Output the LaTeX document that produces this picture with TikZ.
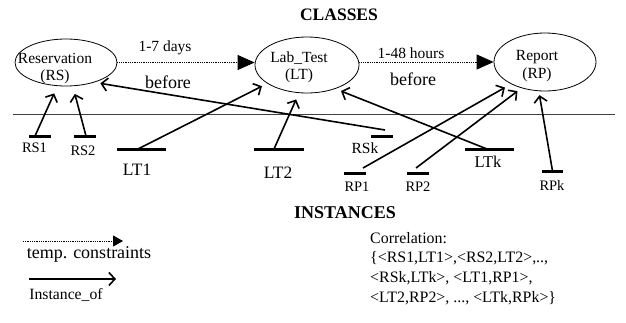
\documentclass[tikz,border=0pt]{standalone}
\usepackage{fontspec}
\setmainfont{Liberation Serif}
\usetikzlibrary{shapes.geometric, arrows.meta, positioning}

\begin{document}
\begin{tikzpicture}[x=1pt, y=-1pt, every node/.style={inner sep=0pt},
    cls/.style={draw, ellipse, line width=0.8pt},
    clstext/.style={align=center, font=\fontsize{15.5}{17.5}\selectfont},
    temp/.style={densely dotted, line width=0.8pt, -{Triangle[length=17pt,width=15pt]}},
    instof/.style={line width=1.6pt, -{Straight Barb[length=6pt,width=13pt]}},
    bar/.style={fill, minimum height=3pt}]
    \useasboundingbox (0,0) rectangle (626,322);
    % Classes
    \node[font=\bfseries\fontsize{17.5}{17.5}\selectfont] (classes) at (339,15) {CLASSES};
    \node[cls, minimum width=102pt, minimum height=47pt] (RS) at (66,62.5) {};
    \node[cls, minimum width=104pt, minimum height=56pt] (LT) at (307,65) {};
    \node[cls, minimum width=102pt, minimum height=58pt] (RP) at (545,62) {};
    \node[clstext] (RS-t) at (55,68.5) {Reservation\\(RS)};
    \node[clstext] (LT-t) at (299,67.5) {Lab\_Test\\(LT)};
    \node[clstext] (RP-t) at (537,66) {Report\\(RP)};
    % Temporal constraints between classes
    \draw[temp] (RS.east) -- (RS.east -| LT.west);
    \draw[temp] (LT.east |- RP.west) -- (RP.west);
    \node[font=\fontsize{15.5}{15.5}\selectfont] (days) at (165,48) {1-7 days};
    \node[font=\fontsize{18}{18}\selectfont] (before-1) at (168,82) {before};
    \node[font=\fontsize{15.5}{15.5}\selectfont] (hours) at (411,53) {1-48 hours};
    \node[font=\fontsize{18}{18}\selectfont] (before-2) at (413,79) {before};
    % Separator
    \coordinate (sep-l) at (13,114);
    \coordinate (sep-r) at (615,114);
    \draw[black!75, line width=1pt] (sep-l) -- (sep-r);
    % Instances (name/x/y/width/label x/label y/size)
    \foreach \n/\x/\y/\w/\lx/\ly/\s in {RS1/40/136/22/34.5/148/14.5, RS2/85/136/22/83/151/14.5,
        LT1/141.5/149/49/137/170/17.4, LT2/279/149/50/278/173/17.4, RSk/382/136/22/365/148/15.5,
        LTk/489.5/149/49/488/162/16.5, RP1/355/173/22/357/187/14.5, RP2/418/173/22/418/187/14.5,
        RPk/552.5/171/21/552/185/14.5} {
        \node[bar, minimum width=\w pt] (\n) at (\x,\y) {};
        \node[font=\fontsize{\s}{\s}\selectfont] (\n-l) at (\lx,\ly) {\n};
    }
    % Instance_of links
    \draw[instof, shorten >=8pt] ([xshift=-5pt]RS1.center) -- (RS.-110);
    \draw[instof, shorten >=8pt] ([xshift=1pt]RS2.center) -- (RS.-74);
    \draw[instof, shorten >=6pt] ([xshift=3pt,yshift=6pt]RSk.center) -- (RS.-35);
    \draw[instof, shorten >=6pt] ([xshift=-3.5pt]LT1.center) -- (LT.-155);
    \draw[instof, shorten >=7pt] ([xshift=-5pt]LT2.center) -- (LT.-106);
    \draw[instof, shorten >=6pt] ([xshift=-2.5pt]LTk.center) -- (LT.-40);
    \draw[instof, shorten >=7pt] ([xshift=8pt,yshift=5pt]RP1.center) -- (RP.-147);
    \draw[instof, shorten >=5pt] ([xshift=-2pt,yshift=5pt]RP2.center) -- (RP.-132);
    \draw[instof, shorten >=4pt] (RPk.center) -- (RP.-102);
    \node[font=\bfseries\fontsize{18}{18}\selectfont] (instances) at (345,213) {INSTANCES};
    % Legend
    \coordinate (tc-a) at (23,241);
    \coordinate (tc-b) at (123,241);
    \draw[temp, -{Triangle[length=10pt,width=11pt]}] (tc-a) -- (tc-b);
    \node[font=\fontsize{18}{18}\selectfont] (tc-text) at (89,254) {temp. constraints};
    \coordinate (io-a) at (29,279);
    \coordinate (io-b) at (116,279);
    \draw[instof] (io-a) -- (io-b);
    \node[font=\fontsize{15.7}{15.7}\selectfont] (io-text) at (66,295) {Instance\_of};
    % Correlation
    \node[align=left, anchor=north west, font=\fontsize{15.9}{19.7}\selectfont] (corr) at (370,232)
        {Correlation:\\\{<RS1,LT1>,<RS2,LT2>,..,\\<RSk,LTk>, <LT1,RP1>,\\<LT2,RP2>, ..., <LTk,RPk>\}};
\end{tikzpicture}
\end{document}
